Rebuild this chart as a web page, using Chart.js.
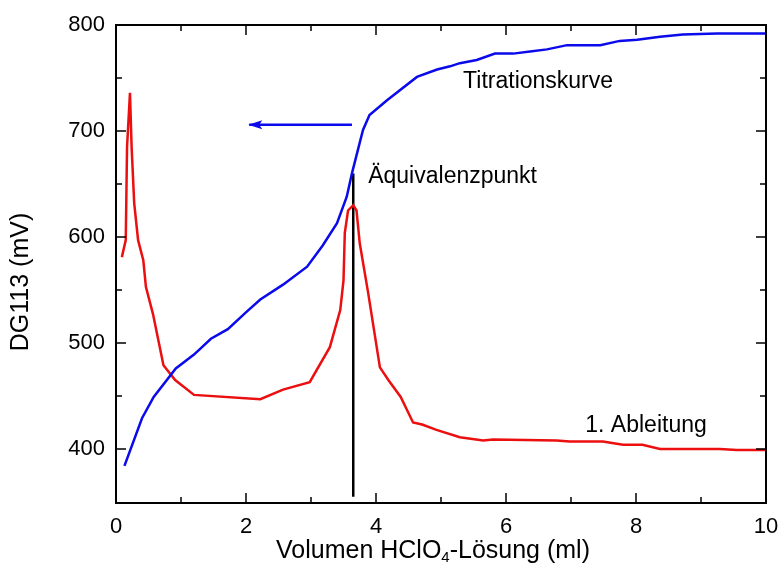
<!DOCTYPE html>
<html>
<head>
<meta charset="utf-8">
<script src="https://cdn.jsdelivr.net/npm/chart.js@4.4.1/dist/chart.umd.min.js"></script>
<style>
  body { margin: 0; background: #fff; }
  canvas { display: block; }
</style>
</head>
<body>
<canvas id="myChart" width="779" height="563"></canvas>
<script>
// titration curve (potential vs. added volume)
const titrVolume = [0.13, 0.40, 0.58, 0.92, 1.20, 1.46, 1.72, 2.02, 2.22, 2.57, 2.94, 3.18, 3.40, 3.55, 3.63, 3.70, 3.80, 3.90, 4.17, 4.63, 4.94, 5.14, 5.29, 5.55, 5.83, 6.11, 6.37, 6.63, 6.94, 7.45, 7.75, 8.02, 8.37, 8.72, 9.25, 10.0]
const titrPotential = [384, 429, 449, 476, 489, 504, 513, 530, 541, 555, 572, 592, 613, 638, 660, 677, 701, 715, 729, 751, 758, 761, 764, 767, 773, 773, 775, 777, 781, 781, 785, 786, 789, 791, 792, 792]

// first derivative, scaled onto the same axis
const derivVolume = [0.09, 0.15, 0.17, 0.215, 0.24, 0.28, 0.34, 0.42, 0.46, 0.57, 0.73, 0.91, 1.20, 2.22, 2.57, 2.98, 3.29, 3.45, 3.50, 3.52, 3.57, 3.65, 3.70, 3.75, 3.88, 4.06, 4.19, 4.38, 4.57, 4.71, 4.93, 5.29, 5.65, 5.80, 6.78, 6.98, 7.49, 7.80, 8.10, 8.37, 9.29, 9.55, 10.0]
const derivValue = [581, 597, 685, 736, 685, 632, 597, 578, 553, 527, 479, 465, 451, 447, 456, 463, 496, 531, 559, 604, 625, 630, 625, 594, 547, 477, 465, 449, 425, 423, 418, 411, 408, 409, 408, 407, 407, 404, 404, 400, 400, 399, 399]

// equivalence point marker and the arrow pointing to the left axis
const eqVolume = [3.65, 3.65]
const eqRange = [355, 660]
const arrowVolume = [2.05, 3.63]
const arrowLevel = [706, 706]

const xTicks = [0, 2, 4, 6, 8, 10]
const xMinor = [1, 3, 5, 7, 9]
const yTicks = [400, 500, 600, 700, 800]
const yMinor = [450, 550, 650, 750]

const notes = [
  { text: 'Titrationskurve', x: 5.34, y: 741 },
  { text: 'Äquivalenzpunkt', x: 3.88, y: 651 },
  { text: '1. Ableitung', x: 7.22, y: 416 }
]

const FONT = '"Liberation Sans", Arial, sans-serif'
const BLUE = 'rgb(10,10,235)'
const RED = 'rgb(235,15,15)'

function pts(xs, ys) {
  return xs.map((x, i) => ({ x: x, y: ys[i] }))
}

const boxPlugin = {
  id: 'box',
  afterDatasetsDraw(chart) {
    const ctx = chart.ctx
    const a = chart.chartArea
    const xs = chart.scales.x
    const ys = chart.scales.y
    ctx.save()

    // arrowhead on the left end of the arrow line
    const arrowMeta = chart.getDatasetMeta(3)
    const tip = arrowMeta.data[0]
    ctx.fillStyle = BLUE
    ctx.beginPath()
    ctx.moveTo(tip.x - 1, tip.y)
    ctx.lineTo(tip.x + 13, tip.y - 4.5)
    ctx.lineTo(tip.x + 10, tip.y)
    ctx.lineTo(tip.x + 13, tip.y + 4.5)
    ctx.closePath()
    ctx.fill()

    // frame
    ctx.strokeStyle = '#000'
    ctx.lineWidth = 2
    ctx.strokeRect(a.left, a.top, a.right - a.left, a.bottom - a.top)

    // inward ticks on all four sides
    ctx.lineWidth = 1.5
    ctx.beginPath()
    function xt(v, len) {
      const p = xs.getPixelForValue(v)
      ctx.moveTo(p, a.bottom); ctx.lineTo(p, a.bottom - len)
      ctx.moveTo(p, a.top); ctx.lineTo(p, a.top + len)
    }
    function yt(v, len) {
      const p = ys.getPixelForValue(v)
      ctx.moveTo(a.left, p); ctx.lineTo(a.left + len, p)
      ctx.moveTo(a.right, p); ctx.lineTo(a.right - len, p)
    }
    xTicks.forEach(v => xt(v, 10))
    xMinor.forEach(v => xt(v, 6))
    yTicks.forEach(v => yt(v, 10))
    yMinor.forEach(v => yt(v, 6))
    ctx.stroke()

    // curve labels
    ctx.fillStyle = '#000'
    ctx.font = '23px ' + FONT
    ctx.textAlign = 'left'
    ctx.textBaseline = 'alphabetic'
    notes.forEach(n => {
      ctx.fillText(n.text, xs.getPixelForValue(n.x), ys.getPixelForValue(n.y))
    })

    // y axis title
    ctx.save()
    ctx.translate(28, (a.top + a.bottom) / 2 + 18)
    ctx.rotate(-Math.PI / 2)
    ctx.textAlign = 'center'
    ctx.font = '25px ' + FONT
    ctx.fillText('DG113 (mV)', 0, 0)
    ctx.restore()

    // x axis title with subscript
    const big = '25px ' + FONT
    const small = '15px ' + FONT
    const p1 = 'Volumen HClO', p2 = '4', p3 = '-Lösung (ml)'
    ctx.font = big
    const w1 = ctx.measureText(p1).width
    const w3 = ctx.measureText(p3).width
    ctx.font = small
    const w2 = ctx.measureText(p2).width
    let x0 = 433 - (w1 + w2 + w3) / 2
    const base = 558
    ctx.textAlign = 'left'
    ctx.font = big
    ctx.fillText(p1, x0, base)
    ctx.font = small
    ctx.fillText(p2, x0 + w1, base + 4)
    ctx.font = big
    ctx.fillText(p3, x0 + w1 + w2, base)

    ctx.restore()
  }
}

function drawChart() {
  const ctx = document.getElementById('myChart').getContext('2d')
  new Chart(ctx, {
    type: 'line',
    data: {
      datasets: [{
        label: 'Titrationskurve',
        data: pts(titrVolume, titrPotential),
        borderColor: BLUE,
        borderWidth: 2.5,
        pointRadius: 0,
        tension: 0
      }, {
        label: '1. Ableitung',
        data: pts(derivVolume, derivValue),
        borderColor: RED,
        borderWidth: 2.5,
        pointRadius: 0,
        tension: 0
      }, {
        label: 'Äquivalenzpunkt',
        data: pts(eqVolume, eqRange),
        borderColor: '#000',
        borderWidth: 2.5,
        pointRadius: 0
      }, {
        label: 'arrow',
        data: pts(arrowVolume, arrowLevel),
        borderColor: BLUE,
        borderWidth: 2.5,
        pointRadius: 0
      }]
    },
    options: {
      responsive: false,
      animation: false,
      layout: { padding: { top: 25, right: 13, left: 0, bottom: 0 } },
      plugins: { legend: { display: false }, tooltip: { enabled: false } },
      scales: {
        x: {
          type: 'linear',
          min: 0,
          max: 10,
          grid: { display: false, drawTicks: false },
          border: { display: false },
          afterBuildTicks: s => { s.ticks = xTicks.map(v => ({ value: v })) },
          afterFit: s => { s.height = 60; s.paddingLeft = 0; s.paddingRight = 0 },
          ticks: { color: '#000', padding: 11, maxRotation: 0, font: { family: FONT, size: 22 } }
        },
        y: {
          type: 'linear',
          min: 349,
          max: 800,
          grid: { display: false, drawTicks: false },
          border: { display: false },
          afterBuildTicks: s => { s.ticks = yTicks.map(v => ({ value: v })) },
          afterFit: s => { s.width = 116; s.paddingTop = 0; s.paddingBottom = 0 },
          ticks: { color: '#000', padding: 11, font: { family: FONT, size: 22 } }
        }
      }
    },
    plugins: [boxPlugin]
  })
}

drawChart()
</script>
</body>
</html>
